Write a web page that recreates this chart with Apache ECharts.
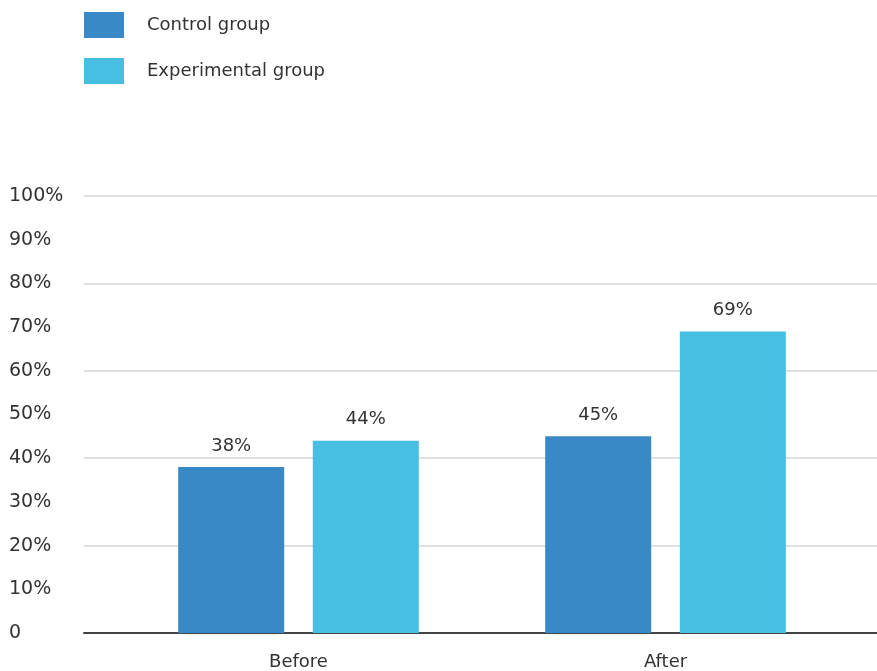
<!DOCTYPE html>
<html>
<head>
<meta charset="utf-8">
<script src="https://cdn.jsdelivr.net/npm/echarts@6/dist/echarts.min.js"></script>
<style>
html,body{margin:0;padding:0;background:#fff;}
#chart{width:877px;height:671px;}
</style>
</head>
<body>
<div id="chart"></div>
<script>
const categories = ['Before', 'After'];
const seriesNames = ['Control group', 'Experimental group'];
const controlValues = [38, 45];
const experimentalValues = [44, 69];
const yTicks = [0, 10, 20, 30, 40, 50, 60, 70, 80, 90, 100];

const FONT = 'DejaVu Sans';
const chart = echarts.init(document.getElementById('chart'));
chart.setOption({
  backgroundColor: '#ffffff',
  animation: false,
  textStyle: { fontFamily: FONT },
  legend: {
    orient: 'vertical',
    left: 79,
    top: 7,
    itemWidth: 40,
    itemHeight: 26,
    itemGap: 20,
    icon: 'rect',
    data: seriesNames,
    textStyle: { fontFamily: FONT, fontSize: 18, color: '#333', padding: [4, 0, 0, 18] }
  },
  grid: [
    { left: 84, right: 0, top: 196, bottom: 38 },
    { left: 115, right: 28, top: 196, bottom: 38 }
  ],
  xAxis: [
    { gridIndex: 0, type: 'value', min: 0, max: 1, axisLabel: { show: false }, axisTick: { show: false },
      splitLine: { show: false }, axisLine: { show: true, lineStyle: { color: '#444', width: 2 } } },
    { gridIndex: 1, type: 'category', data: categories, axisLine: { show: false }, axisTick: { show: false },
      axisLabel: { fontFamily: FONT, fontSize: 18, color: '#333', margin: 20 } }
  ],
  yAxis: [
    { gridIndex: 0, type: 'value', min: yTicks[0], max: yTicks[yTicks.length - 1], interval: 10,
      axisLine: { show: false }, axisTick: { show: false }, splitLine: { show: false },
      axisLabel: { align: 'left', margin: 75, fontFamily: FONT, fontSize: 19, color: '#333',
        padding: [6, 0, 0, 0],
        formatter: v => v === 0 ? '0' : v + '%' } },
    { gridIndex: 0, type: 'value', min: 0, max: 100, interval: 20,
      axisLine: { show: false }, axisTick: { show: false }, axisLabel: { show: false },
      splitLine: { show: true, lineStyle: { color: '#e0e0e0', width: 2 } } },
    { gridIndex: 1, type: 'value', min: 0, max: 100, show: false, splitLine: { show: false } }
  ],
  series: [
    { name: seriesNames[0], type: 'bar', xAxisIndex: 1, yAxisIndex: 2, data: controlValues,
      barWidth: 106, barGap: '27%', itemStyle: { color: '#3889c6' },
      label: { show: true, position: 'top', distance: 12, fontFamily: FONT, fontSize: 18, color: '#333', formatter: '{c}%' } },
    { name: seriesNames[1], type: 'bar', xAxisIndex: 1, yAxisIndex: 2, data: experimentalValues,
      barWidth: 106, barGap: '27%', itemStyle: { color: '#47bfe2' },
      label: { show: true, position: 'top', distance: 12, fontFamily: FONT, fontSize: 18, color: '#333', formatter: '{c}%' } }
  ]
});
</script>
</body>
</html>
